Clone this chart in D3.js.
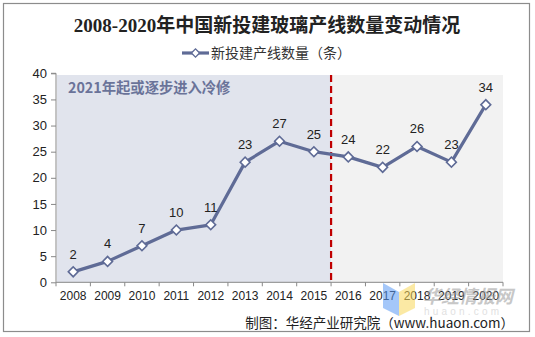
<!DOCTYPE html>
<html><head><meta charset="utf-8">
<script src="https://cdn.jsdelivr.net/npm/d3@7"></script>
<style>body{margin:0;background:#fff;}svg{display:block;}</style>
</head><body>
<svg id="c" width="535" height="337"></svg>
<script>
const years = ["2008","2009","2010","2011","2012","2013","2014","2015","2016","2017","2018","2019","2020"];
const values = [2,4,7,10,11,23,27,25,24,22,26,23,34];
const yTicks = [0,5,10,15,20,25,30,35,40];
const titleText = "2008-2020年中国新投建玻璃产线数量变动情况";
const legendText = "新投建产线数量（条）";
const noteText = "2021年起或逐步进入冷修";
const sourceText = "制图：华经产业研究院（www.huaon.com）";
const splitYear = "2016";

const svg = d3.select("#c");
const lineColor = "#5f6b96";
const sans = "Arial, 'Liberation Sans', 'Noto Sans CJK SC', sans-serif";

svg.append("rect").attr("x",3.5).attr("y",3.5).attr("width",526).attr("height",328)
  .attr("fill","#fff").attr("stroke","#8c8c8c").attr("stroke-width",1.2);

const x = d3.scaleBand().domain(years).range([56,503]);
const y = d3.scaleLinear().domain([0,40]).range([282.3,73.3]);

const splitX = x(splitYear);
svg.append("rect").attr("x",x.range()[0]+1).attr("y",75).attr("width",splitX-x.range()[0]-1)
  .attr("height",y(0)-75).attr("fill","#e1e4ed");
svg.append("rect").attr("x",splitX).attr("y",75).attr("width",x.range()[1]-splitX)
  .attr("height",y(0)-75).attr("fill","#f2f2f2");

svg.append("line").attr("x1",splitX).attr("x2",splitX).attr("y1",75).attr("y2",y(0))
  .attr("stroke","#c00000").attr("stroke-width",2.2).attr("stroke-dasharray","7,4");

const yAxis = d3.axisLeft(y).tickValues(yTicks).tickSize(5).tickPadding(4);
const gy = svg.append("g").attr("transform","translate(56,0)").call(yAxis);
gy.select(".domain").attr("stroke","#888").attr("d",`M-5,${y(40)}H0V${y(0)}`);
gy.selectAll(".tick line").attr("stroke","#888");
gy.selectAll("text").attr("font-family",sans).attr("font-size",13).attr("fill","#222");

const xAxis = d3.axisBottom(x).tickSize(0).tickPadding(9);
const gx = svg.append("g").attr("transform",`translate(0,${y(0)})`).call(xAxis);
gx.select(".domain").attr("stroke","#888").attr("d",`M${x.range()[0]},0H${x.range()[1]}`);
gx.selectAll("text").attr("font-family",sans).attr("font-size",12).attr("fill","#222");
gx.selectAll(".bound").data(years.concat(["end"])).enter().append("line")
  .attr("x1",(d,i)=>x.range()[0]+i*x.step()).attr("x2",(d,i)=>x.range()[0]+i*x.step())
  .attr("y1",0).attr("y2",4).attr("stroke","#888");

svg.append("text").attr("x",68).attr("y",93).text(noteText)
  .attr("font-family","'Noto Sans CJK SC', sans-serif").attr("font-weight","bold")
  .attr("font-size",14.3).attr("fill","#6a7399");

const cx = d => x(d)+x.bandwidth()/2;
const data = years.map((yr,i)=>({yr, v: values[i]}));
svg.append("path").datum(data)
  .attr("d", d3.line().x(d=>cx(d.yr)).y(d=>y(d.v)))
  .attr("fill","none").attr("stroke",lineColor).attr("stroke-width",3.2).attr("stroke-linejoin","round");

svg.selectAll(".pt").data(data).enter().append("path")
  .attr("d", d3.symbol().type(d3.symbolSquare).size(48))
  .attr("transform", d=>`translate(${cx(d.yr)},${y(d.v)}) rotate(45)`)
  .attr("fill","#fff").attr("stroke",lineColor).attr("stroke-width",1.6);

svg.selectAll(".lbl").data(data).enter().append("text")
  .attr("x", d=>cx(d.yr)).attr("y", d=>y(d.v)-13)
  .attr("text-anchor","middle").text(d=>d.v)
  .attr("font-family",sans).attr("font-size",13).attr("fill","#222");

svg.append("text").attr("x",267).attr("y",32).attr("text-anchor","middle").text(titleText)
  .attr("font-family","'Liberation Serif', 'Noto Sans CJK SC', serif").attr("font-weight","bold")
  .attr("font-size",19).attr("fill","#222");

svg.append("line").attr("x1",182).attr("x2",209).attr("y1",53).attr("y2",53)
  .attr("stroke",lineColor).attr("stroke-width",3.2);
svg.append("path").attr("d", d3.symbol().type(d3.symbolSquare).size(34)())
  .attr("transform","translate(195.5,53) rotate(45)")
  .attr("fill","#fff").attr("stroke",lineColor).attr("stroke-width",1.4);
svg.append("text").attr("x",211).attr("y",58).text(legendText)
  .attr("font-family","'Noto Sans CJK SC', sans-serif").attr("font-size",14).attr("fill","#333");

const wm = svg.append("g").attr("opacity",0.55);
wm.append("path").attr("d","M383,283 L399,292 L399,316 L383,308 Z").attr("fill","#5b9bf5");
wm.append("path").attr("d","M415,283 L399,292 L399,316 L415,308 Z").attr("fill","#f8d85a");
wm.append("text").attr("x",423).attr("y",303).text("华经情报网")
  .attr("font-family","'Noto Sans CJK SC', sans-serif").attr("font-weight","bold")
  .attr("font-style","italic").attr("font-size",18).attr("fill","#9a9a9a");
wm.append("text").attr("x",424).attr("y",315).text("huaon.com")
  .attr("font-family",sans).attr("font-size",10).attr("letter-spacing",3.2).attr("fill","#c8c8c8");

svg.append("text").attr("x",514).attr("y",328).attr("text-anchor","end").text(sourceText)
  .attr("font-family","'Noto Sans CJK SC', sans-serif").attr("font-size",13.5).attr("fill","#222");
</script>
</body></html>
